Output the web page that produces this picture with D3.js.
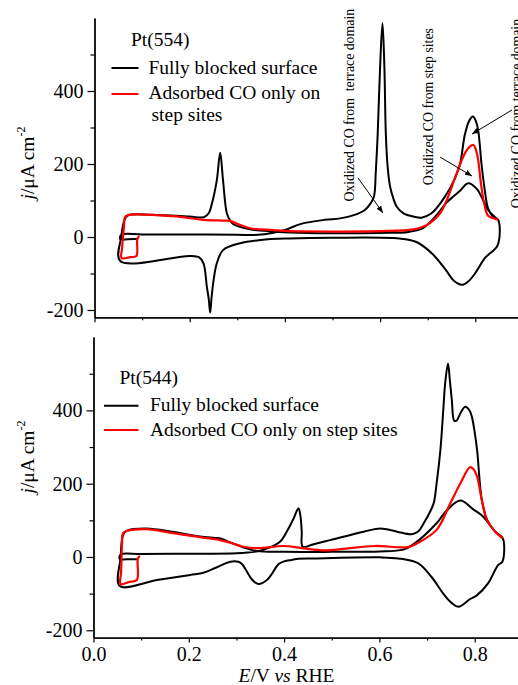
<!DOCTYPE html>
<html><head><meta charset="utf-8">
<script src="https://cdn.jsdelivr.net/npm/d3@7"></script>
<style>
html,body{margin:0;padding:0;background:#fff;}
svg{display:block;}
text{font-family:"Liberation Serif","Times New Roman",serif;fill:#000;}
</style></head><body>
<svg id="chart" width="518" height="685"></svg>
<script>
// ---------- DATA (E in V vs RHE, j in µA cm^-2) ----------
const xMajorTicks = [0, 0.2, 0.4, 0.6, 0.8];
const xMinorTicks = [0.1, 0.3, 0.5, 0.7];
const yMajorTicks = [-200, 0, 200, 400];
const yMinorTicks = [-100, 100, 300, 500];
const xDomain = [0, 0.9];
const yDomain = [-220, 600];

const seriesNames = ["Fully blocked surface", "Adsorbed CO only on step sites"];

// Pt(554) – fully blocked surface (CO stripping + following cycle)
const pt554Blocked = [
  [0.092,-5],[0.070,-6],[0.054,-6],[0.056,6],[0.10,7],[0.20,7],[0.30,6],[0.344,6],[0.37,10],[0.40,19],
  [0.434,36],[0.484,47],[0.516,51],[0.545,60],[0.568,74],[0.580,92],[0.587,110],[0.591,180],[0.595,284],
  [0.600,466],[0.605,586],[0.609,466],[0.612,284],[0.616,190],[0.621,138],[0.628,105],[0.635,83],[0.650,64],
  [0.670,56],[0.687,53],[0.708,65],[0.736,110],[0.757,160],[0.768,200],[0.778,280],[0.787,318],[0.795,330],
  [0.801,318],[0.806,293],[0.813,200],[0.820,128],[0.827,78],[0.838,55],[0.848,47],
  [0.847,-22],[0.82,-58],[0.80,-99],[0.785,-122],[0.772,-131],[0.755,-120],[0.738,-90],[0.709,-45],
  [0.675,-13],[0.64,-4],[0.5,-2],[0.41,-4],[0.35,-8],[0.306,-17],[0.27,-36],[0.257,-72],[0.25,-120],
  [0.246,-165],[0.243,-207],[0.240,-170],[0.236,-136],[0.229,-72],[0.22,-56],[0.2,-52],[0.054,-66],
  [0.056,0],[0.064,50],[0.071,60],[0.12,61],[0.2,56],[0.229,54],[0.24,65],[0.246,88],[0.257,156],
  [0.264,231],[0.27,156],[0.278,65],[0.285,45],[0.292,35],[0.327,21],[0.376,15],[0.41,12],[0.5,10],
  [0.6,11],[0.66,14],[0.69,24],[0.72,62],[0.74,95],[0.755,112],[0.768,127],[0.785,147],[0.803,132],
  [0.813,110],[0.827,74],[0.841,55],[0.848,47]
];
// Pt(554) – adsorbed CO only on step sites
const pt554StepCO = [
  [0.094,3],[0.090,-5],[0.088,-52],[0.075,-55],[0.057,-58],[0.058,-30],[0.062,30],[0.064,54],[0.071,60],
  [0.165,57],[0.229,47],[0.27,45],[0.285,44],[0.306,33],[0.327,24],[0.375,19],[0.41,16],[0.5,15],[0.6,16],
  [0.67,21],[0.698,33],[0.726,65],[0.74,101],[0.761,175],[0.778,229],[0.789,248],[0.796,252],[0.801,240],
  [0.806,211],[0.812,145],[0.819,90],[0.827,58],[0.841,50],[0.848,47]
];
// Pt(544) – fully blocked surface
const pt544Blocked = [
  [0.091,-6],[0.07,-6],[0.055,-6],[0.057,7],[0.10,8],[0.20,9],[0.30,10],[0.346,16],[0.37,26],[0.392,42],
  [0.406,70],[0.42,105],[0.43,133],[0.434,115],[0.437,70],[0.439,28],[0.46,34],[0.497,46],[0.567,69],
  [0.602,78],[0.637,69],[0.668,62],[0.682,70],[0.693,92],[0.705,120],[0.714,147],[0.72,200],[0.728,292],
  [0.734,400],[0.738,474],[0.744,528],[0.748,480],[0.752,428],[0.757,372],[0.762,372],[0.77,392],[0.78,410],
  [0.789,400],[0.794,383],[0.80,340],[0.805,292],[0.815,155],[0.826,101],[0.843,69],[0.859,51],
  [0.858,-13],[0.849,-22],[0.828,-72],[0.805,-104],[0.79,-115],[0.766,-136],[0.752,-126],[0.737,-105],
  [0.709,-54],[0.681,-17],[0.64,-4],[0.6,-1],[0.46,-4],[0.43,-5],[0.416,-8],[0.40,-12],[0.388,-20],
  [0.375,-45],[0.364,-63],[0.346,-74],[0.333,-62],[0.322,-40],[0.312,-20],[0.304,-13],[0.287,-13],
  [0.259,-28],[0.231,-43],[0.203,-49],[0.133,-63],[0.055,-79],
  [0.057,0],[0.062,60],[0.07,72],[0.112,78],[0.168,68],[0.224,56],[0.255,52],[0.268,50],[0.287,40],
  [0.315,26],[0.343,16],[0.4,14],[0.5,14],[0.6,15],[0.65,20],[0.672,35],[0.72,92],[0.742,128],[0.77,154],
  [0.797,130],[0.818,110],[0.84,74],[0.859,51]
];
// Pt(544) – adsorbed CO only on step sites
const pt544StepCO = [
  [0.097,3],[0.093,-5],[0.091,-63],[0.075,-68],[0.057,-74],[0.058,-40],[0.06,40],[0.062,65],[0.07,71],
  [0.112,76],[0.168,65],[0.224,54],[0.259,48],[0.287,39],[0.315,28],[0.345,24],[0.40,30],[0.437,24],
  [0.486,18],[0.53,23],[0.59,30],[0.66,27],[0.68,38],[0.72,74],[0.749,147],[0.77,201],[0.79,245],
  [0.797,240],[0.805,219],[0.815,155],[0.826,101],[0.843,69],[0.859,51]
];

// annotations of the upper panel: [text, E, j of text start] and arrows [E1,j1,E2,j2]
const annoTexts = [
  ["Oxidized CO from  terrace domain", 0.545, 97],
  ["Oxidized CO from step sites", 0.711, 142],
  ["Oxidized CO from terrace domain", 0.896, 79]
];
const annoArrows = [
  [0.5536, 162, 0.606, 66],
  [0.726, 219, 0.793, 167],
  [0.877, 348, 0.793, 282]
];

// ---------- DRAWING ----------
const svg = d3.select("#chart");
const FONT = '"Liberation Serif","Times New Roman",serif';

svg.append("defs").append("marker")
  .attr("id", "arr").attr("viewBox", "0 0 10 10").attr("refX", 10).attr("refY", 5)
  .attr("markerWidth", 7).attr("markerHeight", 7).attr("markerUnits", "userSpaceOnUse")
  .attr("orient", "auto")
  .append("path").attr("d", "M0,1 L10,5 L0,9 Z").attr("fill", "#000");

function panel(cfg) {
  const x = d3.scaleLinear().domain(xDomain).range([cfg.x0, cfg.x0 + 0.9 * cfg.ppu]);
  const y = d3.scaleLinear().domain(yDomain).range([cfg.yb, cfg.yt]);
  const g = svg.append("g");

  const yMaj = d3.axisLeft(y).tickValues(yMajorTicks).tickSize(7).tickPadding(4).tickSizeOuter(0)
    .tickFormat(d => String(d));
  const yMin = d3.axisLeft(y).tickValues(yMinorTicks).tickSize(4).tickFormat("").tickSizeOuter(0);
  const xMaj = d3.axisBottom(x).tickValues(xMajorTicks).tickSize(5).tickPadding(4).tickSizeOuter(0)
    .tickFormat(cfg.xLabels ? (d => d.toFixed(1)) : "");
  const xMin = d3.axisBottom(x).tickValues(xMinorTicks).tickSize(3).tickFormat("").tickSizeOuter(0);

  [[yMaj, `translate(${cfg.x0},0)`], [yMin, `translate(${cfg.x0},0)`],
   [xMaj, `translate(0,${cfg.yb})`], [xMin, `translate(0,${cfg.yb})`]].forEach(([ax, tr]) => {
    const a = g.append("g").attr("transform", tr).call(ax);
    a.attr("font-family", FONT).attr("font-size", 20);
    a.selectAll("path.domain").attr("stroke", "#000").attr("stroke-width", 1.3);
    a.selectAll(".tick line").attr("stroke", "#000").attr("stroke-width", 1.2);
    a.selectAll(".tick text").attr("fill", "#000");
  });

  const line = d3.line().x(d => x(d[0])).y(d => y(d[1])).curve(d3.curveCatmullRom.alpha(0.5));
  g.append("path").datum(cfg.black).attr("d", line).attr("fill", "none")
    .attr("stroke", "#000").attr("stroke-width", 2).attr("stroke-linejoin", "round");
  g.append("path").datum(cfg.red).attr("d", line).attr("fill", "none")
    .attr("stroke", "#ff0000").attr("stroke-width", 2.2).attr("stroke-linejoin", "round");

  const yl = g.append("text").attr("transform", `translate(34,${cfg.ylabY}) rotate(-90)`)
    .attr("text-anchor", "middle").attr("font-size", 19.5);
  yl.append("tspan").attr("font-style", "italic").text("j");
  yl.append("tspan").text("/\u03BCA cm");
  yl.append("tspan").attr("font-size", 12).attr("dy", -9).text("-2");

  const L = cfg.legend;
  g.append("text").attr("x", L.titleX).attr("y", L.titleY).attr("font-size", 19.5).text(cfg.title);
  L.rows.forEach((r, i) => {
    g.append("line").attr("x1", L.lx1).attr("x2", L.lx2).attr("y1", r.ly).attr("y2", r.ly)
      .attr("stroke", i === 0 ? "#000" : "#ff0000").attr("stroke-width", 2);
    r.lines.forEach((t, k) => {
      g.append("text").attr("x", L.tx + (k > 0 ? 3 : 0)).attr("y", r.ty + k * 22.5)
        .attr("font-size", 19.5).text(t);
    });
  });
  return {x, y, g};
}

const topPanel = panel({
  x0: 94.5, ppu: 476, yb: 317.3, yt: 18, xLabels: false,
  black: pt554Blocked, red: pt554StepCO, title: "Pt(554)", ylabY: 163,
  legend: {titleX: 131, titleY: 46, lx1: 111.5, lx2: 138.5, tx: 148.5,
    rows: [{ly: 68, ty: 73.5, lines: [seriesNames[0]]},
           {ly: 94, ty: 98.5, lines: ["Adsorbed CO only on", "step sites"]}]}
});

const bottomPanel = panel({
  x0: 93.5, ppu: 476.5, yb: 637.6, yt: 337.1, xLabels: true,
  black: pt544Blocked, red: pt544StepCO, title: "Pt(544)", ylabY: 457,
  legend: {titleX: 119.5, titleY: 384, lx1: 104, lx2: 138.5, tx: 150,
    rows: [{ly: 405.7, ty: 411, lines: [seriesNames[0]]},
           {ly: 430, ty: 436, lines: [seriesNames[1]]}]}
});

const xt = svg.append("text").attr("x", 286.5).attr("y", 681.5).attr("text-anchor", "middle").attr("font-size", 19.5);
xt.append("tspan").attr("font-style", "italic").text("E");
xt.append("tspan").text("/V ");
xt.append("tspan").attr("font-style", "italic").text("vs");
xt.append("tspan").text(" RHE");

annoTexts.forEach(([t, e, j]) => {
  topPanel.g.append("text").attr("transform", `translate(${topPanel.x(e)},${topPanel.y(j)}) rotate(-90)`)
    .attr("font-size", 13.8).style("white-space", "pre").text(t);
});
annoArrows.forEach(([e1, j1, e2, j2]) => {
  topPanel.g.append("line").attr("x1", topPanel.x(e1)).attr("y1", topPanel.y(j1))
    .attr("x2", topPanel.x(e2)).attr("y2", topPanel.y(j2))
    .attr("stroke", "#000").attr("stroke-width", 1).attr("marker-end", "url(#arr)");
});
</script>
</body></html>
